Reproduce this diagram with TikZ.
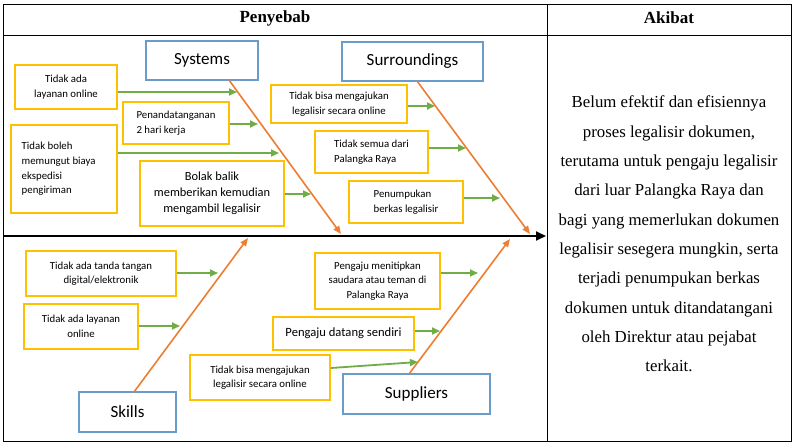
\documentclass[tikz,border=0pt]{standalone}
\usepackage{fontspec}
\setmainfont{Liberation Serif}
\newfontfamily\serfont{Liberation Serif}
\newfontfamily\boxfont{Carlito}
\usetikzlibrary{arrows.meta}
\definecolor{boneorange}{HTML}{ED7D31}
\definecolor{arrgreen}{HTML}{70AD47}
\definecolor{boxyellow}{HTML}{FFC000}
\definecolor{catblue}{HTML}{6A9BCB}
\tikzset{
  ybox/.style={draw=boxyellow, line width=1.8pt, fill=white, inner sep=0pt, anchor=center,
    font=\boxfont\fontsize{10.8}{14.6}\selectfont},
  cbox/.style={draw=catblue, line width=1.8pt, fill=white, inner sep=0pt, anchor=center,
    font=\boxfont\fontsize{17}{20}\selectfont},
  garrow/.style={draw=arrgreen, line width=1.8pt, -{Triangle[length=8pt,width=7pt]}},
  bone/.style={draw=boneorange, line width=1.6pt, -{Triangle[length=8pt,width=6.5pt]}},
  spine/.style={draw=black, line width=1.8pt, -{Triangle[length=10pt,width=9pt]}},
  tline/.style={draw=black, line width=0.9pt},
  head/.style={font=\serfont\bfseries\fontsize{17}{20}\selectfont},
}
\begin{document}
\begin{tikzpicture}[x=1pt,y=-1pt]
\useasboundingbox (0,0) rectangle (795,445);
% table
\draw[tline] (3,4) rectangle (791,441);
\draw[tline] (3,35) -- (791,35);
\draw[tline] (547,4) -- (547,441);
\node[head] (hpen) at (275,18) {Penyebab};
\node[head] (hak) at (669,18) {Akibat};
\node[align=center, font=\serfont\fontsize{16.8}{29.3}\selectfont] (akibat) at (669,234)
 {Belum efektif dan efisiennya\\proses legalisir dokumen,\\terutama untuk pengaju legalisir\\dari luar Palangka Raya dan\\bagi yang memerlukan dokumen\\legalisir sesegera mungkin, serta\\terjadi penumpukan berkas\\dokumen untuk ditandatangani\\oleh Direktur atau pejabat\\terkait.};

% category boxes
\node[cbox, minimum width=112pt, minimum height=39pt] (sys) at (202,60.5) {Systems};
\node[cbox, minimum width=141pt, minimum height=39pt] (sur) at (412.5,61.5) {Surroundings};
\node[cbox, minimum width=97pt, minimum height=40pt] (ski) at (127.5,412) {Skills};
\node[cbox, minimum width=147pt, minimum height=40pt] (sup) at (416.5,394) {Suppliers};

% spine
\coordinate (spL) at (3,236);
\coordinate (spR) at (546,236);
\draw[spine] (spL) -- (spR);

% bones
\coordinate (b1s) at (229,80);
\coordinate (b1e) at (341,234);
\coordinate (b2s) at (417,81);
\coordinate (b2e) at (530,234);
\coordinate (b3s) at (134,392);
\coordinate (b3e) at (248,238);
\coordinate (b4s) at (409,374);
\coordinate (b4e) at (510,239);
\draw[bone] (b1s) -- (b1e);
\draw[bone] (b2s) -- (b2e);
\draw[bone] (b3s) -- (b3e);
\draw[bone] (b4s) -- (b4e);

% cause boxes
\node[ybox, align=center, minimum width=102pt, minimum height=44pt] (n1) at (66,87) {Tidak ada\\layanan online};
\node[ybox, align=left, minimum width=106pt, minimum height=42pt] (n2) at (176,123) {Penandatanganan\\2 hari kerja};
\node[ybox, align=left, minimum width=106pt, minimum height=88pt] (n3) at (64,169) {Tidak boleh\\memungut biaya\\ekspedisi\\pengiriman\hspace*{3.2em}};
\node[ybox, align=center, minimum width=144pt, minimum height=65pt, font=\boxfont\fontsize{12.4}{16}\selectfont] (n4) at (212,193.5) {Bolak balik\\memberikan kemudian\\mengambil legalisir};
\node[ybox, align=center, minimum width=136pt, minimum height=38pt] (n5) at (339,104) {Tidak bisa mengajukan\\legalisir secara online};
\node[ybox, align=left, minimum width=113pt, minimum height=42pt] (n6) at (371.5,152) {Tidak semua dari\\Palangka Raya};
\node[ybox, align=left, minimum width=114pt, minimum height=42pt] (n7) at (406,202) {Penumpukan\\berkas legalisir};
\node[ybox, align=center, minimum width=150pt, minimum height=45pt] (n8) at (101,273.5) {Tidak ada tanda tangan\\digital/elektronik};
\node[ybox, align=center, minimum width=114pt, minimum height=45pt] (n9) at (81,326.5) {Tidak ada layanan\\online};
\node[ybox, align=center, minimum width=125pt, minimum height=56pt] (n10) at (377.5,281) {Pengaju menitipkan\\saudara atau teman di\\Palangka Raya};
\node[ybox, align=center, minimum width=141pt, minimum height=33pt, font=\boxfont\fontsize{12.6}{15}\selectfont] (n11) at (343.5,333.5) {Pengaju datang sendiri};
\node[ybox, align=center, minimum width=140pt, minimum height=45pt] (n12) at (260,377.5) {Tidak bisa mengajukan\\legalisir secara online};

% arrow tips
\coordinate (t1) at (237,92);
\coordinate (t2) at (258,124);
\coordinate (t3) at (279,153);
\coordinate (t4) at (311,194);
\coordinate (t5) at (435,106);
\coordinate (t6) at (466,148);
\coordinate (t7) at (500,198);
\coordinate (t8) at (218,273);
\coordinate (t9) at (180,326);
\coordinate (t10) at (478,273);
\coordinate (t11) at (440,331);
\coordinate (t12) at (418,362);
\draw[garrow] (n1.east |- t1) -- (t1);
\draw[garrow] (n2.east |- t2) -- (t2);
\draw[garrow] (n3.east |- t3) -- (t3);
\draw[garrow] (n4.east |- t4) -- (t4);
\draw[garrow] (n5.east |- t5) -- (t5);
\draw[garrow] (n6.east |- t6) -- (t6);
\draw[garrow] (n7.east |- t7) -- (t7);
\draw[garrow] (n8.east |- t8) -- (t8);
\draw[garrow] (n9.east |- t9) -- (t9);
\draw[garrow] (n10.east |- t10) -- (t10);
\draw[garrow] (n11.east |- t11) -- (t11);
\draw[garrow] ([yshift=9.5pt]n12.east) -- (t12);
\end{tikzpicture}
\end{document}
